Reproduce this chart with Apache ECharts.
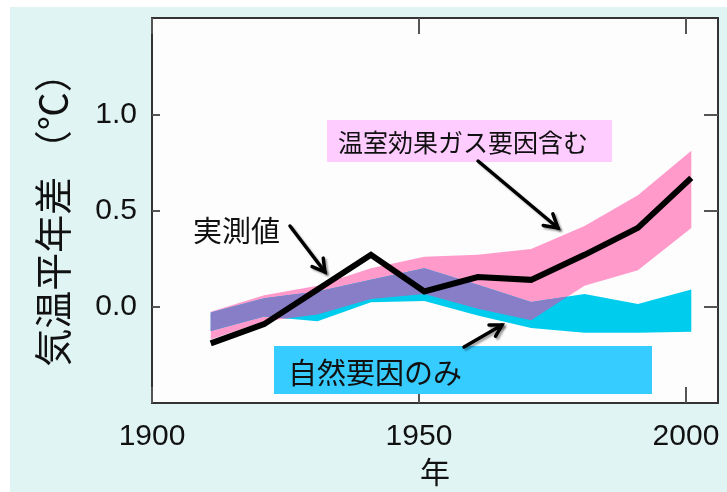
<!DOCTYPE html>
<html>
<head>
<meta charset="utf-8">
<script src="https://cdn.jsdelivr.net/npm/echarts@6/dist/echarts.min.js"></script>
<style>
  html, body { margin: 0; padding: 0; background: #ffffff; }
  #chart { width: 727px; height: 492px; }
</style>
</head>
<body>
<div id="chart"></div>
<script>
// Decadal mean temperature anomaly (°C)
const years = [1911, 1921, 1931, 1941, 1951, 1961, 1971, 1981, 1991, 2001];
const observed = [-0.19, -0.09, 0.09, 0.27, 0.08, 0.155, 0.14, 0.27, 0.41, 0.67];
// Model range including greenhouse gases
const ghgLow  = [-0.17, -0.075, -0.04, 0.04, 0.066, -0.01, -0.07, 0.11, 0.19, 0.41];
const ghgHigh = [-0.025, 0.06, 0.11, 0.20, 0.26, 0.27, 0.30, 0.42, 0.58, 0.81];
// Model range with natural factors only
const natLow  = [-0.125, -0.05, -0.075, 0.024, 0.03, -0.045, -0.11, -0.135, -0.135, -0.13];
const natHigh = [-0.03, 0.045, 0.08, 0.14, 0.20, 0.115, 0.025, 0.066, 0.015, 0.09];
// Axis tick labels
const xTicks = [1900, 1950, 2000];
const yTicks = [0.0, 0.5, 1.0];

const COLOR_GHG = '#ff9acb';
const COLOR_NAT = '#00ccee';
const COLOR_BOTH = '#887ec8';

// Polygon [x,y] list for a band: upper edge forward, lower edge backward
function bandPolygon(xs, lo, hi) {
  const pts = [];
  for (let i = 0; i < xs.length; i++) pts.push([xs[i], hi[i]]);
  for (let i = xs.length - 1; i >= 0; i--) pts.push([xs[i], lo[i]]);
  return pts;
}

// Intersection of two bands, with crossing points of the edges inserted
function overlapBand(xs, aLo, aHi, bLo, bHi) {
  const ox = [], olo = [], ohi = [];
  const lerp = (p, q, t) => p + (q - p) * t;
  const cross = (d0, d1) => (d0 * d1 < 0) ? d0 / (d0 - d1) : null;
  for (let i = 0; i < xs.length - 1; i++) {
    const at = t => {
      const al = lerp(aLo[i], aLo[i + 1], t), ah = lerp(aHi[i], aHi[i + 1], t);
      const bl = lerp(bLo[i], bLo[i + 1], t), bh = lerp(bHi[i], bHi[i + 1], t);
      return [Math.max(al, bl), Math.min(ah, bh)];
    };
    let ts = [0, 1];
    const t1 = cross(aHi[i] - bHi[i], aHi[i + 1] - bHi[i + 1]);
    const t2 = cross(aLo[i] - bLo[i], aLo[i + 1] - bLo[i + 1]);
    if (t1 !== null) ts.push(t1);
    if (t2 !== null) ts.push(t2);
    ts.sort((p, q) => p - q);
    const extra = [];
    for (let k = 0; k < ts.length - 1; k++) {
      const [l0, h0] = at(ts[k]);
      const [l1, h1] = at(ts[k + 1]);
      const t3 = cross(h0 - l0, h1 - l1);
      if (t3 !== null) extra.push(lerp(ts[k], ts[k + 1], t3));
    }
    ts = ts.concat(extra).sort((p, q) => p - q);
    ts.forEach((t, k) => {
      if (i > 0 && k === 0) return;
      const [l, h] = at(t);
      ox.push(lerp(xs[i], xs[i + 1], t));
      olo.push(l);
      ohi.push(Math.max(h, l));
    });
  }
  return bandPolygon(ox, olo, ohi);
}

function bandSeries(points, color) {
  return {
    type: 'custom',
    coordinateSystem: 'cartesian2d',
    silent: true,
    z: 2,
    data: [[years[0], observed[0]]],
    renderItem: function (params, api) {
      return {
        type: 'polygon',
        shape: { points: points.map(p => api.coord(p)) },
        style: { fill: color, stroke: null }
      };
    }
  };
}

// Arrow with an open V head
function arrow(x1, y1, x2, y2, wing) {
  const a = Math.atan2(y2 - y1, x2 - x1);
  const s = Math.PI / 6;
  const w1 = [x2 - wing * Math.cos(a - s), y2 - wing * Math.sin(a - s)];
  const w2 = [x2 - wing * Math.cos(a + s), y2 - wing * Math.sin(a + s)];
  const style = {
    stroke: '#000', lineWidth: 3.5, fill: null, lineCap: 'round', lineJoin: 'miter',
    shadowColor: 'rgba(0,0,0,0.35)', shadowBlur: 2, shadowOffsetX: 2, shadowOffsetY: 2
  };
  return [
    { type: 'polyline', z: 20, shape: { points: [[x1, y1], [x2, y2]] }, style: style },
    { type: 'polyline', z: 20, shape: { points: [w1, [x2, y2], w2] }, style: style }
  ];
}

const cjk = '"Noto Sans CJK JP", "Noto Sans", sans-serif';
const latin = '"Liberation Sans", Arial, sans-serif';
const tickStyle = { color: '#555', width: 2 };

const chart = echarts.init(document.getElementById('chart'), null, { renderer: 'canvas' });

const option = {
  backgroundColor: '#ffffff',
  animation: false,
  grid: {
    left: 152, top: 18, width: 566, height: 393,
    show: true, backgroundColor: '#fdfdfd', borderColor: '#333', borderWidth: 2
  },
  xAxis: [{
    type: 'value', min: 1900, max: 2006, interval: 50,
    axisLine: { show: false, onZero: false },
    splitLine: { show: false },
    axisTick: { show: true, inside: true, length: 16, customValues: xTicks, lineStyle: tickStyle },
    axisLabel: { customValues: xTicks, margin: 19, fontSize: 30, fontFamily: latin, color: '#111',
      formatter: v => String(v) },
    name: '年', nameLocation: 'middle', nameGap: 53,
    nameTextStyle: { fontSize: 30, fontFamily: cjk, color: '#111' }
  }, {
    type: 'value', position: 'top', min: 1900, max: 2006, interval: 50,
    axisLine: { show: false, onZero: false }, splitLine: { show: false },
    axisTick: { show: true, inside: true, length: 16, customValues: xTicks, lineStyle: tickStyle },
    axisLabel: { show: false }
  }],
  yAxis: [{
    type: 'value', min: -0.5, max: 1.5, interval: 0.5,
    axisLine: { show: false, onZero: false }, splitLine: { show: false },
    axisTick: { show: true, inside: true, length: 8, customValues: yTicks, lineStyle: tickStyle },
    axisLabel: { customValues: yTicks, margin: 15, fontSize: 30, fontFamily: latin, color: '#111',
      formatter: v => v.toFixed(1) },
    name: '気温平年差 （℃）', nameLocation: 'middle', nameGap: 80, nameRotate: 90,
    nameTextStyle: { fontSize: 38, fontFamily: cjk, color: '#111' }
  }, {
    type: 'value', position: 'right', min: -0.5, max: 1.5, interval: 0.5,
    axisLine: { show: false, onZero: false }, splitLine: { show: false },
    axisTick: { show: true, inside: true, length: 14, customValues: yTicks, lineStyle: tickStyle },
    axisLabel: { show: false }
  }],
  series: [
    bandSeries(bandPolygon(years, ghgLow, ghgHigh), COLOR_GHG),
    bandSeries(bandPolygon(years, natLow, natHigh), COLOR_NAT),
    bandSeries(overlapBand(years, ghgLow, ghgHigh, natLow, natHigh), COLOR_BOTH),
    {
      type: 'line',
      data: years.map((y, i) => [y, observed[i]]),
      symbol: 'none',
      z: 5,
      lineStyle: { color: '#000', width: 6, join: 'miter' }
    }
  ],
  graphic: [
    // light panel behind the chart
    { type: 'rect', z: -100, silent: true, shape: { x: 10, y: 7, width: 717, height: 485 }, style: { fill: '#e0f4f4' } },
    // annotation boxes and texts
    { type: 'rect', z: 15, shape: { x: 327, y: 120, width: 285, height: 42 }, style: { fill: '#ffccff' } },
    { type: 'text', z: 16, style: { x: 338, y: 142, text: '温室効果ガス要因含む', fill: '#111',
      font: '25px ' + cjk, verticalAlign: 'middle' } },
    { type: 'rect', z: 15, shape: { x: 274, y: 346, width: 378, height: 48 }, style: { fill: '#36ccff' } },
    { type: 'text', z: 16, style: { x: 288, y: 373, text: '自然要因のみ', fill: '#111',
      font: '29px ' + cjk, verticalAlign: 'middle' } },
    { type: 'text', z: 16, style: { x: 193, y: 231, text: '実測値', fill: '#111',
      font: '29px ' + cjk, verticalAlign: 'middle' } }
  ].concat(
    arrow(290, 226, 325, 272, 14),
    arrow(478, 161, 558, 228, 15),
    arrow(464, 347, 502, 325, 13)
  )
};

chart.setOption(option);
</script>
</body>
</html>
